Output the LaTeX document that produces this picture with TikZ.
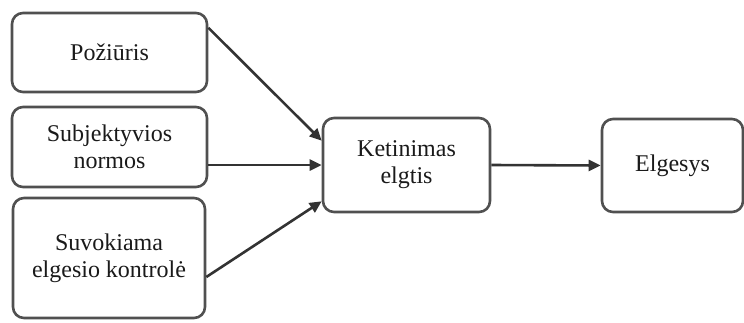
\documentclass[tikz,border=0pt]{standalone}
\usepackage{fontspec}
\setmainfont{Liberation Serif}
\usetikzlibrary{arrows.meta,calc}
\definecolor{boxline}{HTML}{505050}
\definecolor{arrline}{HTML}{333333}
\definecolor{txt}{HTML}{1A1A1A}
\begin{document}
\begin{tikzpicture}[x=1pt,y=-1pt,
  box/.style={draw=boxline,line width=2.6pt,rounded corners=11pt,fill=white,
    text=txt,align=center,inner sep=0pt,
    font=\fontsize{24}{27}\selectfont},
  conn/.style={draw=arrline,line width=2.6pt,-{Triangle[length=12pt,width=11pt]}}]
\useasboundingbox (0,0) rectangle (744,322);
\node[box,minimum width=195pt,minimum height=79pt] (poz) at (109.5,52.5) {Požiūris};
\node[box,minimum width=195pt,minimum height=80pt] (subj) at (109.5,147) {Subjektyvios\\normos};
\node[box,minimum width=192pt,minimum height=120pt] (suv) at (109,258) {Suvokiama\\elgesio kontrolė};
\node[box,minimum width=167pt,minimum height=94pt] (ket) at (406.5,165) {Ketinimas\\elgtis};
\node[box,minimum width=141pt,minimum height=93pt] (elg) at (672.5,165.5) {Elgesys};
\coordinate (p1) at ($(poz.north east)+(0,16)$);
\coordinate (p2) at ($(ket.north west)+(0,24)$);
\coordinate (s1) at ($(subj.east)+(0,18)$);
\coordinate (s2) at (ket.west);
\coordinate (v1) at ($(suv.east)+(0,19)$);
\coordinate (v2) at ($(ket.south west)+(0,-12)$);
\draw[conn] (p1) -- (p2);
\draw[conn] (s1) -- (s2);
\draw[conn] (v1) -- (v2);
\draw[conn] (ket.east) -- (elg.west);
\end{tikzpicture}
\end{document}
